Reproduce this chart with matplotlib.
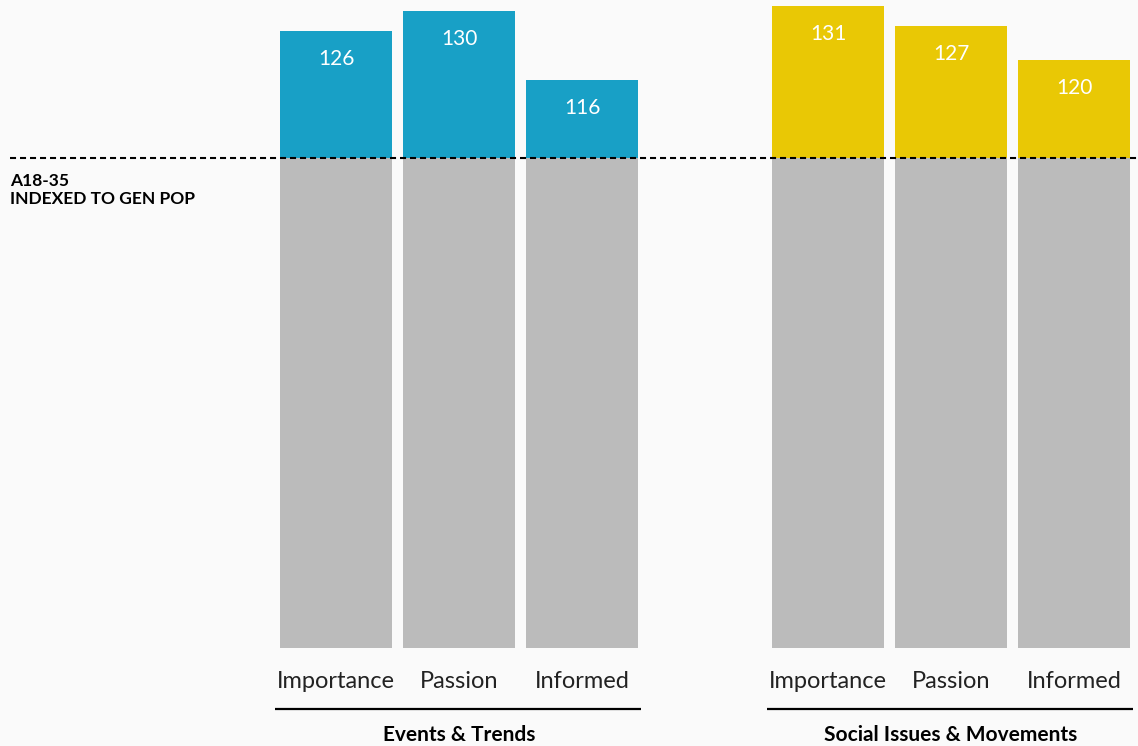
import matplotlib.pyplot as plt

plt.rcParams['font.family'] = ['Lato', 'DejaVu Sans']

# data
categories = ['Importance', 'Passion', 'Informed']
groups = ['Events & Trends', 'Social Issues & Movements']
events_values = [126, 130, 116]
social_values = [131, 127, 120]
baseline = 100
baseline_label = 'A18-35\nINDEXED TO GEN POP'

blue = '#18A0C6'
yellow = '#E9C805'
grey = '#BBBBBB'
bg = '#FAFAFA'

fig = plt.figure(figsize=(11.38, 7.46), dpi=100, facecolor=bg)
ax = fig.add_axes([0, 0, 1, 1])
ax.set_facecolor(bg)
ax.set_xlim(-2.732, 6.52)
ax.set_ylim(-20, 132.24)
ax.axis('off')

width = 0.9106
group_x = [[0, 1, 2], [4, 5, 6]]
group_vals = [events_values, social_values]
group_cols = [blue, yellow]

for xs, vals, col, gname in zip(group_x, group_vals, group_cols, groups):
    top = [v - baseline for v in vals]
    ax.bar(xs, [baseline] * len(xs), width=width, color=grey, zorder=1)
    ax.bar(xs, top, width=width, bottom=baseline, color=col, zorder=1)
    for x, v in zip(xs, vals):
        ax.text(x, v - 5.7, str(v), ha='center', va='center', color='white',
                fontsize=15, fontweight='normal', zorder=3)
    for x, c in zip(xs, categories):
        ax.text(x, -6.9, c, ha='center', va='center', color='#222222',
                fontsize=17, fontweight='normal')
    ax.plot([xs[0] - 0.495, xs[-1] + 0.48], [-12.45, -12.45], color='black',
            lw=1.6, solid_capstyle='butt')
    ax.text((xs[0] + xs[-1]) / 2, -17.7, gname, ha='center', va='center',
            fontsize=15, fontweight='bold', color='black')

ax.plot([-2.65, 6.52], [baseline, baseline], color='black', lw=1.5,
        linestyle=(0, (2.9, 1.9)), zorder=2)
ax.text(-2.65, 97.0, baseline_label, ha='left', va='top', fontsize=12.5,
        fontweight='bold', color='black', linespacing=1.15)

fig.savefig('out.png', dpi=100, facecolor=bg)
